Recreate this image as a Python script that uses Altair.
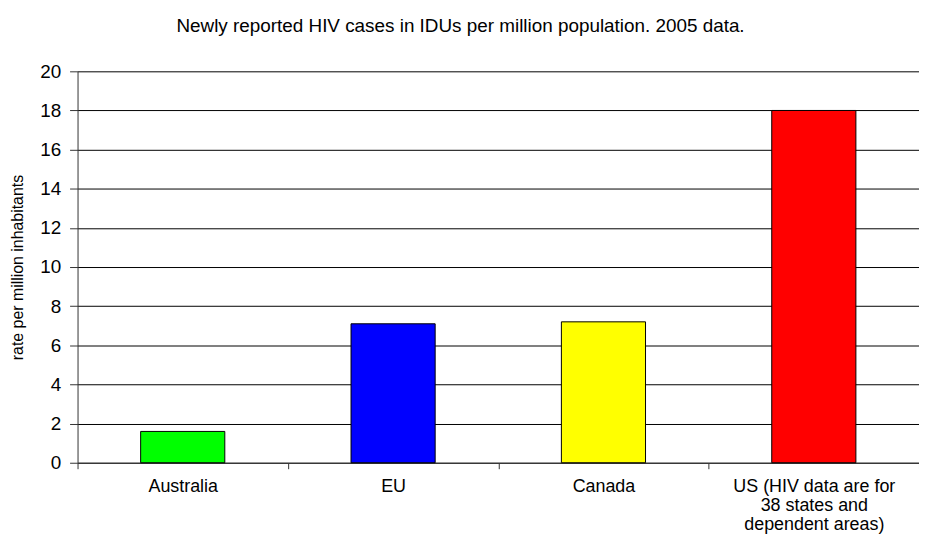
import altair as alt
import pandas as pd

categories = ["Australia", "EU", "Canada", "US (HIV data are for|38 states and|dependent areas)"]
values = [1.6, 7.1, 7.2, 18.0]
bar_colors = ["#00FF00", "#0000FF", "#FFFF00", "#FF0000"]
y_ticks = [0, 2, 4, 6, 8, 10, 12, 14, 16, 18, 20]

title_text = "Newly reported HIV cases in IDUs per million population. 2005 data."
y_title = "rate per million inhabitants"

df = pd.DataFrame({"region": categories, "rate": values})

FONT = "Liberation Sans"

x_enc = alt.X(
    "region:N",
    sort=categories,
    title=None,
    scale=alt.Scale(paddingInner=0, paddingOuter=0),
    axis=alt.Axis(
        labelExpr="split(datum.label, '|')",
        labelAngle=0,
        labelFont=FONT,
        labelFontSize=18,
        labelColor="#000000",
        labelLineHeight=19,
        labelPadding=9,
        labelBaseline="top",
        labelLimit=400,
        tickBand="extent",
        tickSize=6,
        tickColor="#333333",
        domainColor="#333333",
        grid=False,
    ),
)

y_enc = alt.Y(
    "rate:Q",
    scale=alt.Scale(domain=[0, 20], nice=False),
    axis=alt.Axis(
        values=y_ticks,
        title=y_title,
        titleFont=FONT,
        titleFontSize=16,
        titleFontWeight="normal",
        titleColor="#000000",
        titleX=-60,
        titleY=197,
        titleAngle=270,
        titleAlign="center",
        titleBaseline="middle",
        labelFont=FONT,
        labelFontSize=19,
        labelColor="#000000",
        labelPadding=9,
        tickSize=8,
        tickColor="#333333",
        domainColor="#333333",
        grid=True,
        gridColor="#000000",
        gridWidth=1,
        gridOpacity=1,
    ),
)

bars = alt.Chart(df).mark_bar(
    width=alt.RelativeBandSize(0.4),
    stroke="#000000",
    strokeWidth=1,
).encode(
    x=x_enc,
    y=y_enc,
    color=alt.Color(
        "region:N",
        scale=alt.Scale(domain=categories, range=bar_colors),
        legend=None,
    ),
)

chart = bars.properties(
    width=847,
    height=394,
    autosize=alt.AutoSizeParams(type="none"),
    padding={"left": 70, "top": 62, "right": 0, "bottom": 71},
    title=alt.TitleParams(
        text=title_text,
        font=FONT,
        fontSize=19,
        fontWeight="normal",
        color="#000000",
        anchor="middle",
        frame="group",
        baseline="alphabetic",
        offset=12,
        dx=-38,
    ),
).configure_view(stroke=None)

chart.save("out.html", embed_options={"renderer": "svg", "actions": False})
